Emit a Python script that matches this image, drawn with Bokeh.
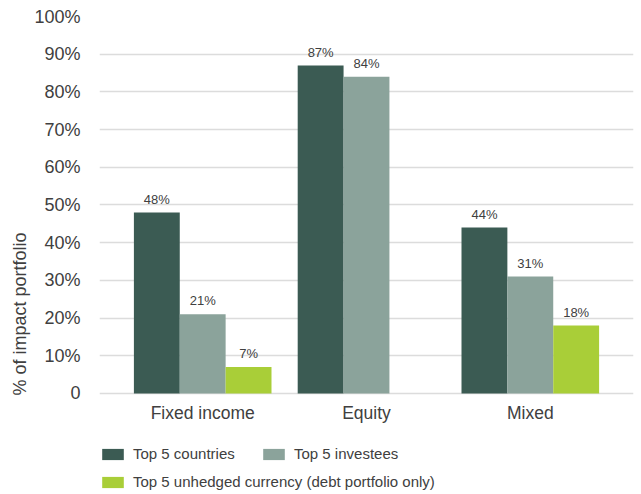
from bokeh.plotting import figure
from bokeh.models import (ColumnDataSource, FactorRange, Range1d, FixedTicker,
                          Legend, LegendItem, LabelSet, Title)
from bokeh.core.properties import value
from bokeh.transform import dodge
from bokeh.embed import file_html
from bokeh.resources import INLINE
import math

categories = ["Fixed income", "Equity", "Mixed"]
top_countries = [48, 87, 44]
top_investees = [21, 84, 31]
top_currency = [7, float("nan"), 18]
series_names = ["Top 5 countries", "Top 5 investees",
                "Top 5 unhedged currency (debt portfolio only)"]
y_ticks = [0, 10, 20, 30, 40, 50, 60, 70, 80, 90, 100]
y_tick_labels = ["0", "10%", "20%", "30%", "40%", "50%", "60%", "70%", "80%", "90%", "100%"]
y_title = "% of impact portfolio"

colors = ["#3B5B53", "#8BA39B", "#A9CE38"]
FONT = "Liberation Sans"
TXT = "#404040"


def lab(vals):
    return ["" if (v is None or (isinstance(v, float) and math.isnan(v))) else f"{v:g}%" for v in vals]


src = ColumnDataSource(dict(
    cat=categories,
    c=top_countries, i=top_investees, u=top_currency,
    cl=lab(top_countries), il=lab(top_investees), ul=lab(top_currency),
))

p = figure(x_range=FactorRange(*categories, range_padding=0.13, range_padding_units="absolute"),
           y_range=Range1d(-26.8, 100),
           width=641, height=494, output_backend="svg", toolbar_location=None,
           min_border_left=99, min_border_right=8, min_border_top=16, min_border_bottom=0)

W = 0.28
offsets = [-W, 0, W]
renderers = []
for key, lkey, off, col in zip(["c", "i", "u"], ["cl", "il", "ul"], offsets, colors):
    r = p.vbar(x=dodge("cat", off, range=p.x_range), top=key, bottom=0, width=W, source=src,
               fill_color=col, line_color=None)
    renderers.append(r)
    p.add_layout(LabelSet(x=dodge("cat", off, range=p.x_range), y=key, text=lkey, source=src,
                          text_align="center", text_baseline="alphabetic", y_offset=9,
                          text_font=value(FONT), text_font_size=value("13px"),
                          text_color=value(TXT)))

p.outline_line_color = None
p.xgrid.grid_line_color = None
p.ygrid.grid_line_color = "#DCDCDC"
p.ygrid.grid_line_width = 1.3

p.yaxis.ticker = FixedTicker(ticks=y_ticks)
p.yaxis.major_label_overrides = {t: l for t, l in zip(y_ticks, y_tick_labels)}
p.xaxis.fixed_location = 0

for ax in (p.xaxis[0], p.yaxis[0]):
    ax.axis_line_color = None
    ax.major_tick_line_color = None
    ax.minor_tick_line_color = None
    ax.major_tick_out = 0
    ax.major_tick_in = 0
    ax.major_label_text_font = FONT
    ax.major_label_text_color = TXT
p.yaxis.major_label_text_font_size = "18px"
p.xaxis.major_label_text_font_size = "17.5px"
p.yaxis.major_label_standoff = 19
p.xaxis.major_label_standoff = 10

p.add_layout(Title(text=y_title, align="left", offset=99, text_font=FONT,
                   text_font_size="18px", text_font_style="normal", text_color=TXT,
                   standoff=4), "left")

common = dict(label_text_font=FONT, label_text_font_size="15px", label_text_color=TXT,
              glyph_width=27, glyph_height=14, label_standoff=7, label_height=14,
              label_width=120, spacing=7, padding=0, margin=0,
              border_line_color=None, background_fill_alpha=0)
leg1 = Legend(items=[LegendItem(label=series_names[0], renderers=[renderers[0]]),
                     LegendItem(label=series_names[1], renderers=[renderers[1]])],
              orientation="horizontal", location=(0, 32), **common)
leg2 = Legend(items=[LegendItem(label=series_names[2], renderers=[renderers[2]])],
              orientation="horizontal", location=(0, 4), **common)
p.add_layout(leg1, "center")
p.add_layout(leg2, "center")

open("out.html", "w").write(file_html(p, INLINE))
